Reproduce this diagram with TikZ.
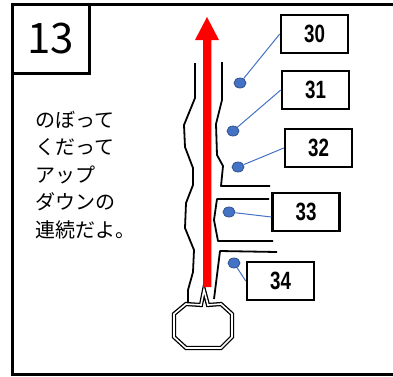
\documentclass[tikz,border=0pt]{standalone}
\usepackage{fontspec}
\usepackage{graphicx}
\newfontfamily\jpfont{Noto Sans CJK JP}
\newfontfamily\numfont{Liberation Sans}
\usetikzlibrary{shapes.geometric}
\definecolor{dotblue}{HTML}{4472C4}
\definecolor{dotedge}{HTML}{2F528F}
\begin{document}
\begin{tikzpicture}[x=1pt,y=-1pt,
  numbox/.style={draw, line width=2.5pt, minimum width=67pt, minimum height=38pt, inner sep=0pt,
    font=\numfont\bfseries\fontsize{25}{25}\selectfont},
  dotnode/.style={ellipse, fill=dotblue, draw=dotedge, line width=0.8pt,
    minimum width=12pt, minimum height=10pt, inner sep=0pt},
  conn/.style={dotblue, line width=1pt},
  wall/.style={line width=1.8pt, line join=round}]
\useasboundingbox (0,0) rectangle (393,376);
% outer frame
\draw[line width=3pt] (12,4.5) rectangle (410,374.5);
% title box
\node[draw, line width=3pt, minimum width=77pt, minimum height=69pt, inner sep=0pt,
  font=\jpfont\fontsize{42}{42}\selectfont] (title) at (50.5,39) {13};
% text
\node[anchor=west, align=left, inner sep=0pt,
  font=\jpfont\fontsize{20}{27.5}\selectfont] (txt) at (35,175)
  {のぼって\\くだって\\アップ\\ダウンの\\連続だよ。};
% walls
\draw[wall] (195,63) -- (195,98) -- (184,125) -- (185,147) -- (193,168) -- (193,185)
  -- (186,203) -- (185,228) -- (194,250) -- (193,272) -- (188,290) -- (188,304);
\draw[wall] (222,62) -- (222,100) -- (216,124) -- (217,155) -- (223,166) -- (221,186) -- (270,186);
\draw[wall] (269,199) -- (217,199) -- (214,220) -- (218,241) -- (273,241);
\draw[wall] (277,252) -- (220,251) -- (214,299);
% octagon
\draw[fill=white, line width=1.3pt, double=white, double distance=1.6pt, line join=miter]
  (201,305) -- (204,290) -- (208,305) -- (221,304) -- (232,314) -- (232,337) -- (221,348)
  -- (186,348) -- (174,337) -- (174,314) -- (186,304) -- cycle;
% red arrow
\fill[red] (203.2,287) -- (203.2,40) -- (195,40) -- (207,17) -- (219,40) -- (211.4,40)
  -- (211.4,287) -- cycle;
% number boxes
\node[numbox] (b30) at (314.5,34) {\scalebox{0.75}[1]{30}};
\node[numbox] (b31) at (315.5,90) {\scalebox{0.75}[1]{31}};
\node[numbox] (b32) at (318.5,148) {\scalebox{0.75}[1]{32}};
\node[numbox] (b33) at (306,212) {\scalebox{0.75}[1]{33}};
\node[numbox] (b34) at (280.5,281) {\scalebox{0.75}[1]{34}};
% dots
\node[dotnode] (d30) at (240,83) {};
\node[dotnode] (d31) at (233,131) {};
\node[dotnode] (d32) at (238,167) {};
\node[dotnode] (d33) at (229,212) {};
\node[dotnode] (d34) at (234,263) {};
% connectors
\draw[conn] (d30) -- (b30.west);
\draw[conn] (d31) -- (b31.west);
\draw[conn] (d32) -- (b32.west);
\draw[conn] (d33) -- ([yshift=-5pt]b33.west);
\draw[conn] (d34) -- (b34.west);
\end{tikzpicture}
\end{document}
